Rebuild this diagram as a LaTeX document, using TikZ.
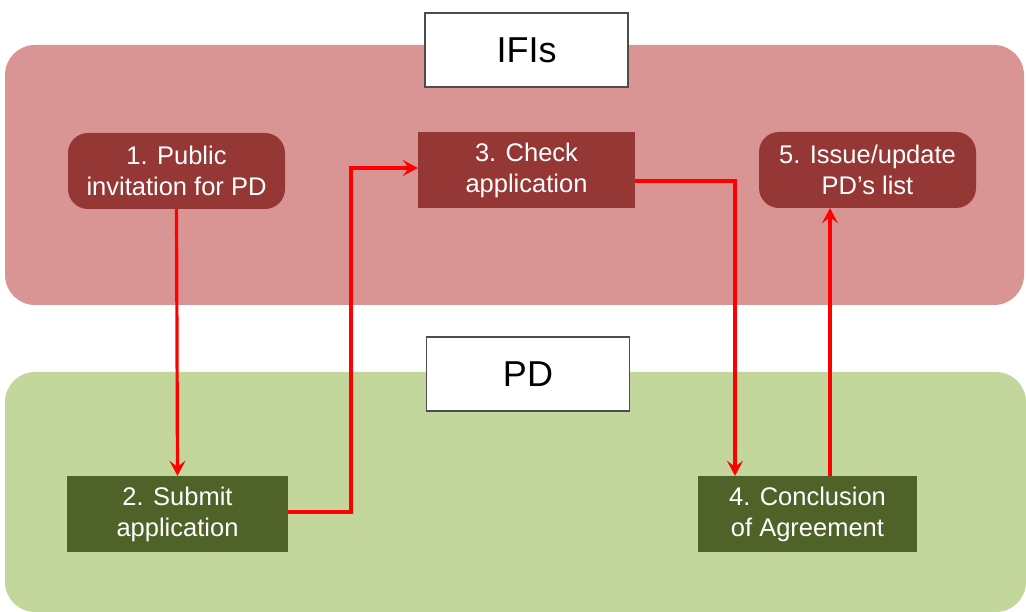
\documentclass[tikz,border=0pt]{standalone}
\usepackage{fontspec}
\setmainfont{Liberation Sans}
\usetikzlibrary{arrows.meta}
\definecolor{bandred}{HTML}{D99594}
\definecolor{boxred}{HTML}{953735}
\definecolor{bandgreen}{HTML}{C3D69B}
\definecolor{boxgreen}{HTML}{4F6228}
\definecolor{arrowred}{HTML}{FF0000}
\tikzset{
  band/.style={rounded corners=30pt},
  stepbox/.style={minimum width=217pt, minimum height=76pt, align=center, text=white,
    font=\fontsize{25.5}{31}\selectfont, inner sep=0pt},
  redrect/.style={stepbox, fill=boxred},
  redround/.style={stepbox, fill=boxred, rounded corners=20pt},
  greenrect/.style={stepbox, fill=boxgreen},
  label/.style={draw=black!70, line width=1.5pt, fill=white, minimum width=203pt,
    minimum height=74pt, font=\fontsize{36}{40}\selectfont, inner sep=0pt},
  flow/.style={draw=arrowred, line width=3.2pt, -{Stealth[length=15pt,width=16pt,inset=6pt]}}
}
\begin{document}
\begin{tikzpicture}[x=1pt,y=-1pt]
\useasboundingbox (0,0) rectangle (1026,612);
\fill[bandred, band] (5,45) rectangle (1024,305);
\fill[bandgreen, band] (5,372) rectangle (1026,612);
\node[label] (ifi) at (526.5,50) {IFIs};
\node[label] (pd) at (528,374) {PD};
\node[redround] (n1) at (176.5,171) {1. Public\\invitation for PD};
\node[redrect] (n3) at (526.5,170.5) {3. Check\\application};
\node[redround] (n5) at (867.5,170) {5. Issue/update\\PD's list};
\node[greenrect, minimum width=221pt] (n2) at (177.5,514) {2. Submit\\application};
\node[greenrect, minimum width=219pt] (n4) at (807.5,514) {4. Conclusion\\of Agreement};
\coordinate (y2) at (0,512);
\coordinate (y3in) at (0,168);
\coordinate (y3out) at (0,181);
\coordinate (a2) at (351,0);
\coordinate (a3) at (735,0);
\coordinate (a4) at (830,0);
\draw[flow] (n1.south) -- (n2.north);
\draw[flow] (n2.east |- y2) -- (a2 |- y2) -- (a2 |- y3in) -- (n3.west |- y3in);
\draw[flow] (n3.east |- y3out) -- (a3 |- y3out) -- (a3 |- n4.north);
\draw[flow] (a4 |- n4.north) -- (a4 |- n5.south);
\end{tikzpicture}
\end{document}
